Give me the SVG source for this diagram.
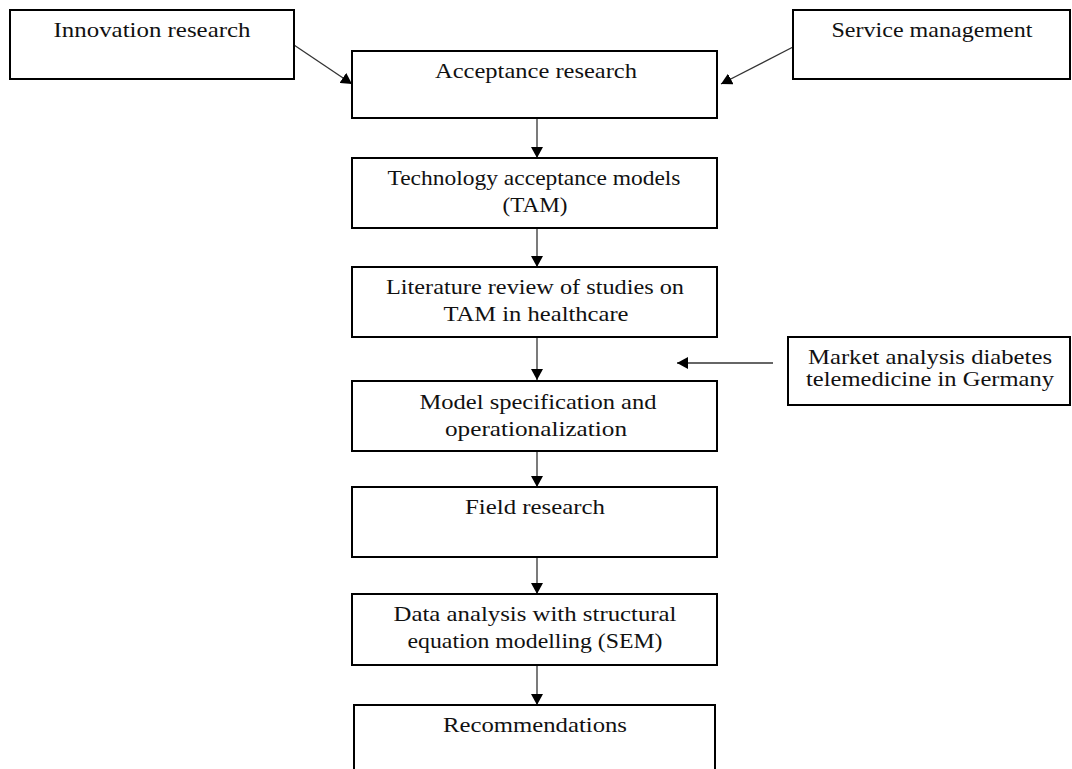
<svg xmlns="http://www.w3.org/2000/svg" width="1072" height="769" viewBox="0 0 1072 769">
  <style>
    .box { fill: #ffffff; stroke: #000000; stroke-width: 2; }
    .lbl { font-family: "Liberation Serif", "DejaVu Serif", serif; font-size: 22px; fill: #111111; text-anchor: middle; }
    .sm { font-size: 21px; }
    .edge { stroke: #333333; stroke-width: 1.3; fill: none; marker-end: url(#arrow); }
  </style>
  <defs>
    <marker id="arrow" markerUnits="userSpaceOnUse" viewBox="0 0 11 12" refX="11" refY="6" markerWidth="11" markerHeight="12" orient="auto">
      <path d="M0,0 L11,6 L0,12 Z" fill="#000000"/>
    </marker>
  </defs>
  <rect width="1072" height="769" fill="#ffffff"/>

  <g id="connectors">
    <line class="edge" x1="294" y1="45" x2="352" y2="84"/>
    <line class="edge" x1="793" y1="47" x2="721" y2="84"/>
    <line class="edge" x1="537" y1="118" x2="537" y2="158"/>
    <line class="edge" x1="537" y1="228" x2="537" y2="267"/>
    <line class="edge" x1="537" y1="337" x2="537" y2="380"/>
    <line class="edge" x1="537" y1="451" x2="537" y2="487"/>
    <line class="edge" x1="537" y1="557" x2="537" y2="594"/>
    <line class="edge" x1="537" y1="665" x2="537" y2="705"/>
    <line class="edge" x1="773" y1="363" x2="677" y2="363"/>
  </g>

  <g id="innovation-research">
    <rect class="box" x="10" y="10" width="284" height="69"/>
    <text class="lbl" x="152" y="37" textLength="197" lengthAdjust="spacingAndGlyphs">Innovation research</text>
  </g>

  <g id="service-management">
    <rect class="box" x="793" y="10" width="277" height="69"/>
    <text class="lbl" x="932" y="37" textLength="201" lengthAdjust="spacingAndGlyphs">Service management</text>
  </g>

  <g id="acceptance-research">
    <rect class="box" x="352" y="51" width="365" height="67"/>
    <text class="lbl" x="536" y="78" textLength="202" lengthAdjust="spacingAndGlyphs">Acceptance research</text>
  </g>

  <g id="tam">
    <rect class="box" x="352" y="158" width="365" height="70"/>
    <text class="lbl" x="534" y="185" textLength="293" lengthAdjust="spacingAndGlyphs">Technology acceptance models</text>
    <text class="lbl" x="535" y="212" textLength="65" lengthAdjust="spacingAndGlyphs">(TAM)</text>
  </g>

  <g id="literature-review">
    <rect class="box" x="352" y="267" width="365" height="70"/>
    <text class="lbl" x="535" y="294" textLength="298" lengthAdjust="spacingAndGlyphs">Literature review of studies on</text>
    <text class="lbl" x="536" y="321" textLength="185" lengthAdjust="spacingAndGlyphs">TAM in healthcare</text>
  </g>

  <g id="market-analysis">
    <rect class="box" x="788" y="337" width="282" height="68"/>
    <text class="lbl sm" x="930" y="364" textLength="244" lengthAdjust="spacingAndGlyphs">Market analysis diabetes</text>
    <text class="lbl sm" x="930" y="386" textLength="248" lengthAdjust="spacingAndGlyphs">telemedicine in Germany</text>
  </g>

  <g id="model-specification">
    <rect class="box" x="352" y="381" width="365" height="70"/>
    <text class="lbl" x="538" y="409" textLength="237" lengthAdjust="spacingAndGlyphs">Model specification and</text>
    <text class="lbl" x="536" y="436" textLength="182" lengthAdjust="spacingAndGlyphs">operationalization</text>
  </g>

  <g id="field-research">
    <rect class="box" x="352" y="487" width="365" height="70"/>
    <text class="lbl" x="535" y="514" textLength="140" lengthAdjust="spacingAndGlyphs">Field research</text>
  </g>

  <g id="data-analysis">
    <rect class="box" x="352" y="594" width="365" height="71"/>
    <text class="lbl" x="535" y="621" textLength="283" lengthAdjust="spacingAndGlyphs">Data analysis with structural</text>
    <text class="lbl" x="535" y="648" textLength="255" lengthAdjust="spacingAndGlyphs">equation modelling (SEM)</text>
  </g>

  <g id="recommendations">
    <rect class="box" x="354" y="705" width="361" height="80"/>
    <text class="lbl" x="535" y="732" textLength="184" lengthAdjust="spacingAndGlyphs">Recommendations</text>
  </g>
</svg>
